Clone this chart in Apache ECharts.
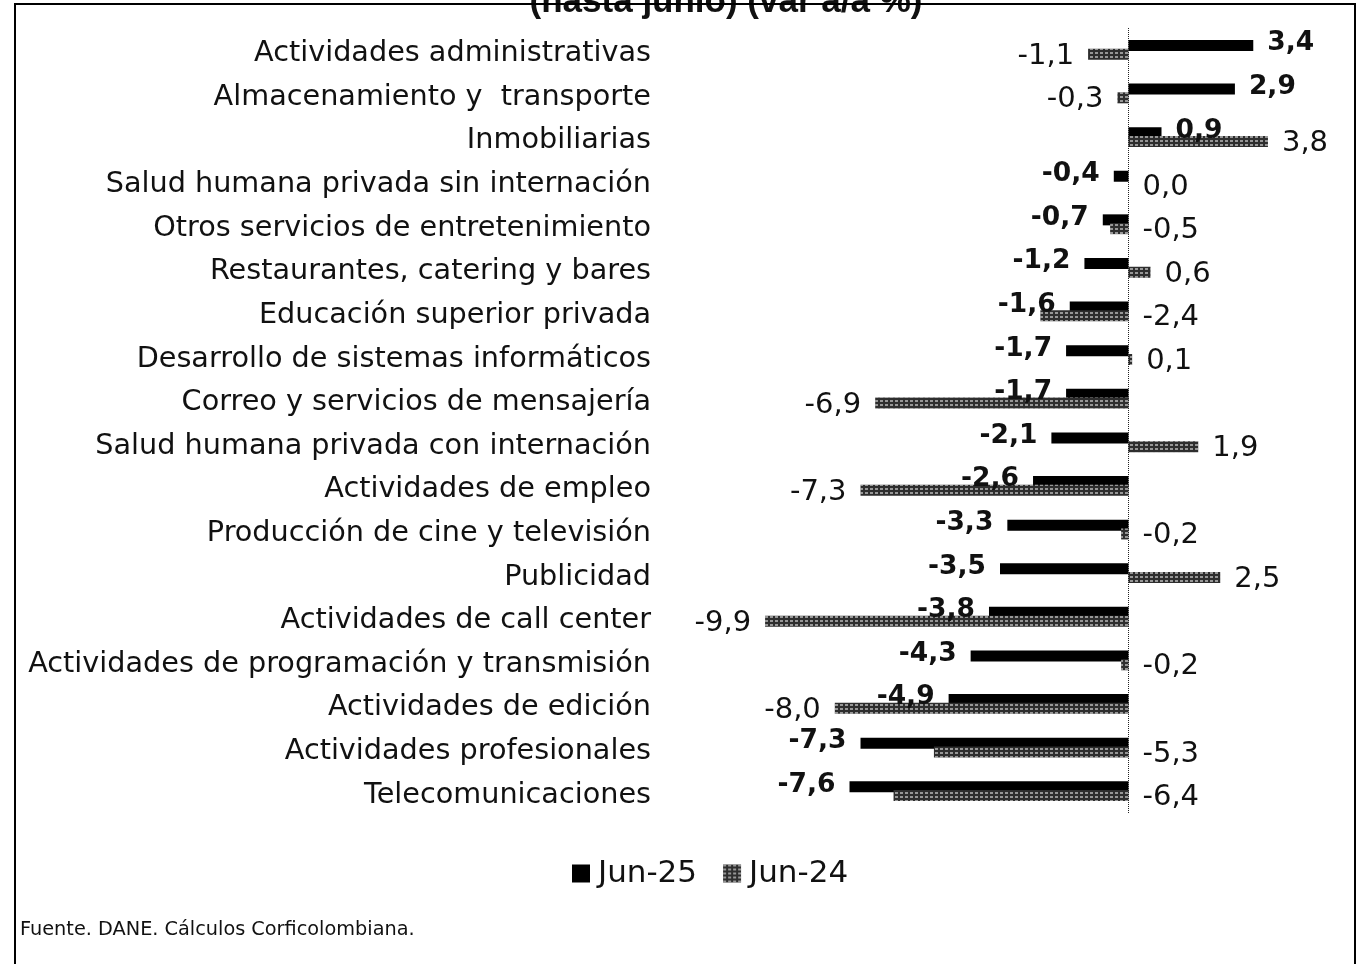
<!DOCTYPE html>
<html>
<head>
<meta charset="utf-8">
<script src="https://cdn.jsdelivr.net/npm/echarts@6/dist/echarts.min.js"></script>
<style>
  html, body { margin: 0; padding: 0; background: #fff; }
  #chart { width: 1361px; height: 964px; }
</style>
</head>
<body>
<div id="chart"></div>
<script>
// categorias (de arriba hacia abajo)
var categories = [
  'Actividades administrativas',
  'Almacenamiento y  transporte',
  'Inmobiliarias',
  'Salud humana privada sin internación',
  'Otros servicios de entretenimiento',
  'Restaurantes, catering y bares',
  'Educación superior privada',
  'Desarrollo de sistemas informáticos',
  'Correo y servicios de mensajería',
  'Salud humana privada con internación',
  'Actividades de empleo',
  'Producción de cine y televisión',
  'Publicidad',
  'Actividades de call center',
  'Actividades de programación y transmisión',
  'Actividades de edición',
  'Actividades profesionales',
  'Telecomunicaciones'
];
var jun25 = [3.4, 2.9, 0.9, -0.4, -0.7, -1.2, -1.6, -1.7, -1.7, -2.1, -2.6, -3.3, -3.5, -3.8, -4.3, -4.9, -7.3, -7.6];
var jun24 = [-1.1, -0.3, 3.8, 0.0, -0.5, 0.6, -2.4, 0.1, -6.9, 1.9, -7.3, -0.2, 2.5, -9.9, -0.2, -8.0, -5.3, -6.4];
var seriesNames = ['Jun-25', 'Jun-24'];

// etiquetas de Jun-24 que van a la derecha del cero aunque el valor sea negativo
var jun24LabelRight = [4, 6, 11, 14, 16, 17];

var font = 'DejaVu Sans';

function fmt(p) {
  return p.value.toFixed(1).replace('.', ',');
}

function toData(list, dy, rightIdx) {
  return list.map(function (v, i) {
    var side = v < 0 ? 'left' : 'right';
    if (rightIdx && rightIdx.indexOf(i) > -1) side = 'right';
    return {
      value: v,
      label: { position: side, offset: [0, dy] }
    };
  });
}

var chart = echarts.init(document.getElementById('chart'));

var option = {
  animation: false,
  backgroundColor: '#fff',
  grid: { left: 688, right: 49, top: 28, bottom: 151 },
  xAxis: {
    type: 'value',
    min: -12,
    max: 5,
    show: false
  },
  yAxis: {
    type: 'category',
    data: categories,
    inverse: true,
    axisLine: { show: false },
    axisTick: { show: false },
    axisLabel: {
      margin: 37,
      fontSize: 28.7,
      fontFamily: font,
      color: '#111',
      formatter: function (v) {
        return '{c|' + v + '}';
      },
      rich: {
        c: {
          fontSize: 28.7,
          fontFamily: font,
          color: '#111',
          padding: [8, 0, 0, 0]
        }
      }
    }
  },
  legend: {
    data: seriesNames,
    icon: 'rect',
    left: 567,
    top: 853,
    itemWidth: 18,
    itemHeight: 18,
    itemGap: 26,
    textStyle: { fontSize: 31, fontFamily: font, color: '#111', padding: [0, 0, 0, 3] }
  },
  series: [
    {
      name: seriesNames[0],
      type: 'bar',
      data: toData(jun25, -2),
      barWidth: 11,
      barGap: '-20%',
      itemStyle: { color: '#000' },
      label: {
        show: true,
        distance: 14,
        fontSize: 26.5,
        fontWeight: 'bold',
        fontFamily: font,
        color: '#111',
        formatter: fmt
      },
      markLine: {
        silent: true,
        symbol: 'none',
        label: { show: false },
        lineStyle: { color: '#222', type: 'dotted', width: 1 },
        data: [{ xAxis: 0 }]
      }
    },
    {
      name: seriesNames[1],
      type: 'bar',
      data: toData(jun24, 2, jun24LabelRight),
      barWidth: 11,
      itemStyle: {
        color: '#2e2e2e',
        decal: {
          symbol: 'rect',
          color: 'rgba(255,255,255,0.5)',
          dashArrayX: [3, 2],
          dashArrayY: [2, 2],
          symbolSize: 1,
          rotation: 0
        }
      },
      label: {
        show: true,
        distance: 14,
        fontSize: 29,
        fontFamily: font,
        color: '#111',
        formatter: fmt
      }
    }
  ],
  graphic: [
    {
      type: 'text',
      silent: true,
      style: {
        x: 726,
        y: -15,
        text: '(hasta junio) (var a/a %)',
        textAlign: 'center',
        textVerticalAlign: 'top',
        fontSize: 35,
        fontWeight: 'bold',
        fontFamily: 'Liberation Sans',
        fill: '#111'
      }
    },
    {
      type: 'rect',
      silent: true,
      shape: { x: 15, y: 4, width: 1340, height: 1000 },
      style: { fill: null, stroke: '#000', lineWidth: 2 }
    },
    {
      type: 'text',
      left: 20,
      top: 920,
      silent: true,
      style: {
        text: 'Fuente. DANE. Cálculos Corficolombiana.',
        fontSize: 19.3,
        fontFamily: font,
        fill: '#111'
      }
    }
  ]
};

chart.setOption(option);
</script>
</body>
</html>
